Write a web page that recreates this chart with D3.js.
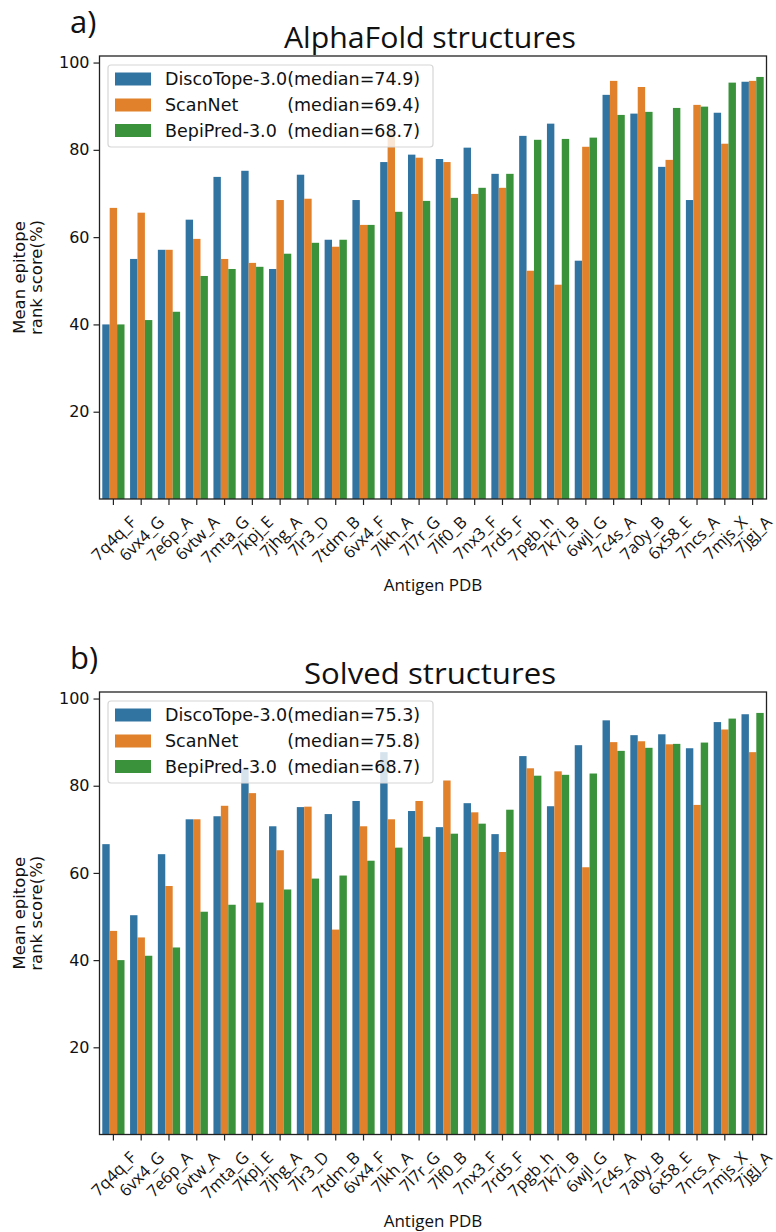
<!DOCTYPE html>
<html>
<head>
<meta charset="utf-8">
<script src="https://cdn.jsdelivr.net/npm/d3@7"></script>
<style>
  body { margin: 0; background: #fff; }
  svg { display: block; }
</style>
</head>
<body>
<svg id="chart" width="776" height="1232"></svg>
<script>
// data
const antigens = ["7q4q_F", "6vx4_G", "7e6p_A", "6vtw_A", "7mta_G", "7kpj_E", "7jhg_A", "7lr3_D",
  "7tdm_B", "6vx4_F", "7lkh_A", "7l7r_G", "7lf0_B", "7nx3_F", "7rd5_F", "7pgb_h", "7k7i_B",
  "6wjl_G", "7c4s_A", "7a0y_B", "6x58_E", "7ncs_A", "7mjs_X", "7jgj_A"];
const methods = ["DiscoTope-3.0", "ScanNet", "BepiPred-3.0"];
const colors = ["#3274a1", "#e1812c", "#3a923a"];
const yTicks = [20, 40, 60, 80, 100];

const afDiscoTope = [40.0, 55.0, 57.1, 64.0, 73.8, 75.2, 52.7, 74.3, 59.4, 68.5, 77.2, 78.9,
  77.9, 80.5, 74.5, 83.2, 86.0, 54.6, 92.6, 88.3, 76.1, 68.5, 88.5, 95.6];
const afScanNet = [66.7, 65.6, 57.1, 59.6, 55.0, 54.1, 68.5, 68.8, 57.8, 62.8, 84.6, 78.2,
  77.2, 69.9, 71.3, 52.3, 49.1, 80.7, 95.8, 94.4, 77.7, 90.3, 81.4, 95.8];
const afBepiPred = [40.0, 41.0, 42.9, 51.1, 52.7, 53.2, 56.2, 58.7, 59.4, 62.8, 65.8, 68.3,
  69.0, 71.3, 74.5, 82.3, 82.5, 82.8, 88.0, 88.7, 89.6, 89.9, 95.4, 96.7];
const afMedians = ["74.9", "69.4", "68.7"];

const solvedDiscoTope = [66.6, 50.3, 64.3, 72.3, 73.0, 83.8, 70.7, 75.1, 73.5, 76.5, 87.7, 74.2,
  70.5, 76.0, 68.9, 86.8, 75.3, 89.3, 95.0, 91.6, 91.8, 88.6, 94.6, 96.4];
const solvedScanNet = [46.7, 45.2, 57.0, 72.3, 75.4, 78.3, 65.2, 75.2, 47.0, 70.7, 72.3, 76.5,
  81.2, 73.9, 64.8, 84.0, 83.3, 61.3, 90.0, 90.2, 89.5, 75.6, 92.9, 87.7];
const solvedBepiPred = [40.0, 41.0, 42.9, 51.1, 52.7, 53.2, 56.2, 58.7, 59.4, 62.8, 65.8, 68.3,
  69.0, 71.3, 74.5, 82.3, 82.5, 82.8, 88.0, 88.7, 89.6, 89.9, 95.4, 96.7];
const solvedMedians = ["75.3", "75.8", "68.7"];

const svg = d3.select("#chart");
const left = 99.5, right = 766.5;
const tickFont = "'DejaVu Sans', sans-serif";
const labelFont = "'Open Sans', 'Noto Sans', sans-serif";

function drawPanel(p) {
  const g = svg.append("g");
  const y = d3.scaleLinear().domain([0, 101.5]).range([p.zero, p.top]);
  const x0 = d3.scaleBand().domain(antigens).range([left, right]);
  const bw = x0.bandwidth();
  const x1 = d3.scaleBand().domain(methods).range([0, bw * 0.8]);

  const rows = [];
  antigens.forEach((a, i) => {
    p.series.forEach((s, j) => rows.push({ a: a, m: methods[j], v: s[i], c: colors[j] }));
  });

  g.append("g").selectAll("rect")
    .data(rows)
    .enter()
    .append("rect")
    .attr("x", d => x0(d.a) + bw * 0.1 + x1(d.m))
    .attr("width", x1.bandwidth())
    .attr("y", d => y(d.v))
    .attr("height", d => y(0) - y(d.v))
    .attr("fill", d => d.c);

  // frame
  g.append("rect")
    .attr("x", left).attr("y", p.top)
    .attr("width", right - left).attr("height", y(0) - p.top)
    .attr("fill", "none").attr("stroke", "#222").attr("stroke-width", 1.3);

  // y axis
  const yAxis = d3.axisLeft(y).tickValues(yTicks).tickSize(6).tickPadding(4);
  const ya = g.append("g").attr("transform", `translate(${left},0)`).call(yAxis);
  ya.select(".domain").remove();
  ya.selectAll("line").attr("stroke", "#222").attr("stroke-width", 1.2);
  ya.selectAll("text").attr("font-family", tickFont).attr("font-size", 16).attr("fill", "#111");

  // x ticks
  const xAxis = d3.axisBottom(x0).tickSize(6).tickFormat("");
  const xa = g.append("g").attr("transform", `translate(0,${y(0)})`).call(xAxis);
  xa.select(".domain").remove();
  xa.selectAll("line").attr("stroke", "#222").attr("stroke-width", 1.2);

  // rotated tick labels, bbox centred under tick
  const fs = 16.5;
  g.append("g").selectAll("text")
    .data(antigens)
    .enter()
    .append("text")
    .attr("font-family", labelFont)
    .attr("font-size", fs)
    .attr("fill", "#111")
    .attr("text-anchor", "middle")
    .attr("dominant-baseline", "central")
    .text(d => d)
    .each(function (d) {
      const L = this.getComputedTextLength();
      const half = (L + fs * 0.95) / (2 * Math.SQRT2);
      const cx = x0(d) + bw / 2;
      const cy = y(0) + 14 + half;
      d3.select(this).attr("transform", `translate(${cx},${cy}) rotate(-45)`);
    });

  // axis labels
  g.append("text")
    .attr("x", (left + right) / 2).attr("y", p.zero + 92)
    .attr("text-anchor", "middle")
    .attr("font-family", labelFont).attr("font-size", 17).attr("fill", "#111")
    .text("Antigen PDB");

  const midY = (p.top + y(0)) / 2;
  const yl = g.append("text")
    .attr("transform", `translate(25,${midY}) rotate(-90)`)
    .attr("text-anchor", "middle")
    .attr("font-family", tickFont).attr("font-size", 16.5).attr("fill", "#111");
  yl.append("tspan").attr("x", 0).attr("dy", 0).text("Mean epitope");
  yl.append("tspan").attr("x", 0).attr("dy", 17).text("rank score(%)");

  // titles
  g.append("text")
    .attr("x", 430).attr("y", p.top - 8)
    .attr("text-anchor", "middle")
    .attr("font-family", labelFont).attr("font-size", 29).attr("fill", "#111")
    .attr("textLength", p.titleWidth).attr("lengthAdjust", "spacingAndGlyphs")
    .text(p.title);
  g.append("text")
    .attr("x", 70).attr("y", p.top - 23)
    .attr("font-family", labelFont).attr("font-size", 31).attr("fill", "#111")
    .text(p.tag);

  // legend
  const lg = g.append("g");
  lg.append("rect")
    .attr("x", 108).attr("y", p.top + 9)
    .attr("width", 325).attr("height", 82)
    .attr("rx", 3)
    .attr("fill", "#fff").attr("fill-opacity", 0.8)
    .attr("stroke", "#d6d6d6").attr("stroke-width", 1.2);
  const rowY = [23, 49, 74.5];
  let medX = 293;
  methods.forEach((m, j) => {
    const cy = p.top + rowY[j];
    lg.append("rect")
      .attr("x", 115).attr("y", cy - 6.5)
      .attr("width", 36).attr("height", 13)
      .attr("fill", colors[j]);
    const t = lg.append("text")
      .attr("x", 165).attr("y", cy + 6)
      .attr("font-family", tickFont).attr("font-size", 17.5).attr("fill", "#111")
      .text(m);
    if (j === 0) medX = 165 + t.node().getComputedTextLength();
    lg.append("text")
      .attr("x", medX).attr("y", cy + 6)
      .attr("font-family", tickFont).attr("font-size", 17.5).attr("fill", "#111")
      .text("(median=" + p.medians[j] + ")");
  });
}

drawPanel({
  top: 56, zero: 499, title: "AlphaFold structures", titleWidth: 292, tag: "a)",
  series: [afDiscoTope, afScanNet, afBepiPred], medians: afMedians
});
drawPanel({
  top: 692, zero: 1134.5, title: "Solved structures", titleWidth: 252, tag: "b)",
  series: [solvedDiscoTope, solvedScanNet, solvedBepiPred], medians: solvedMedians
});
</script>
</body>
</html>
